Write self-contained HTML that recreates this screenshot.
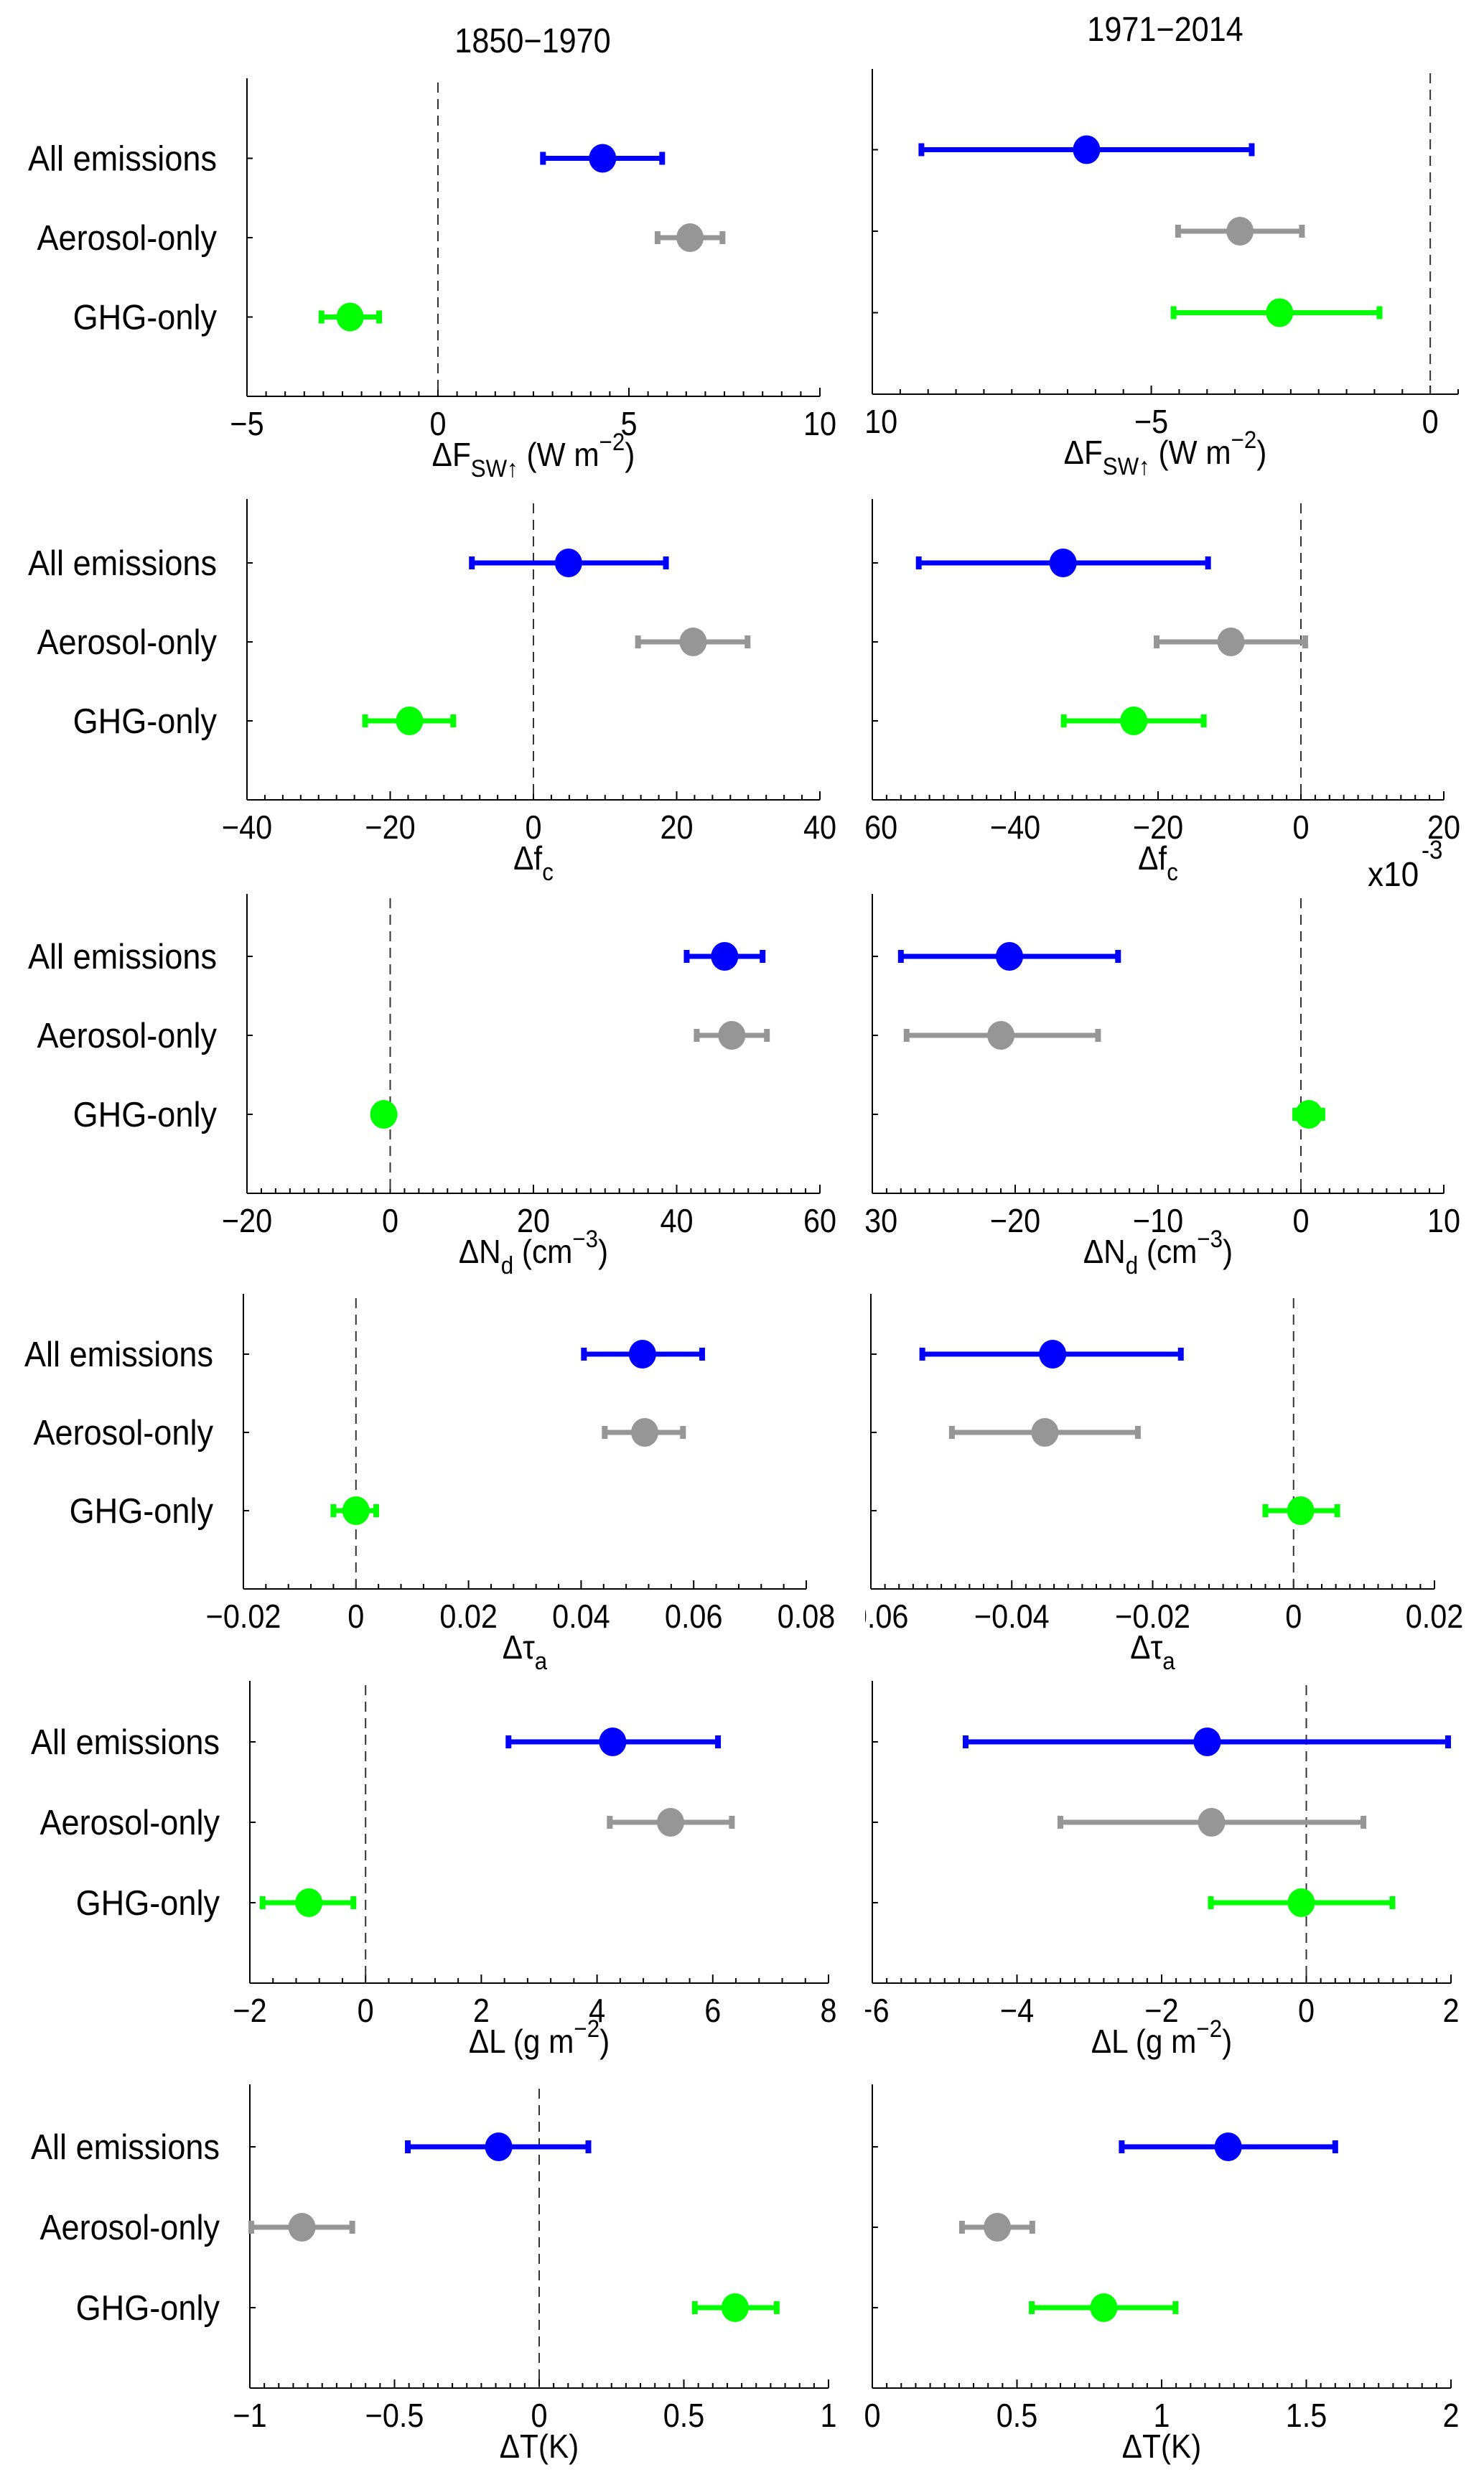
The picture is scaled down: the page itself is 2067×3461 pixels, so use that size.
<!DOCTYPE html>
<html><head><meta charset="utf-8"><title>Emission response panels</title>
<style>
html,body{margin:0;padding:0;background:#fff;}
svg{display:block;font-family:"Liberation Sans",Arial,sans-serif;}
</style></head>
<body>
<svg id="fig" width="2067" height="3461" viewBox="0 0 2067 3461" xmlns="http://www.w3.org/2000/svg">
<defs><clipPath id="rclip"><rect x="1205" y="0" width="862" height="3461"/></clipPath></defs>
<rect x="0" y="0" width="2067" height="3461" fill="#fff"/>
<text transform="translate(742,73) scale(0.9,1)" font-size="48" text-anchor="middle">1850−1970</text>
<text transform="translate(1623,57) scale(0.9,1)" font-size="48" text-anchor="middle">1971−2014</text>
<text transform="translate(1905,1234) scale(0.92,1)" font-size="48">x10</text>
<text transform="translate(1980,1196) scale(0.92,1)" font-size="36">-3</text>
</svg>
<script>
const categories = ["All emissions","Aerosol-only","GHG-only"];
const colors = ["#0000ff","#969696","#00ff00"];

// Row 1: ΔF_SW
const fswL_mean = [4.31, 6.6, -2.3];
const fswL_lo   = [2.75, 5.75, -3.05];
const fswL_hi   = [5.87, 7.45, -1.54];
const fswL_ticks = [-5, 0, 5, 10];
const fswL_tickLabels = ["−5","0","5","10"];
const fswR_mean = [-6.16, -3.41, -2.7];
const fswR_lo   = [-9.12, -4.52, -4.6];
const fswR_hi   = [-3.2, -2.3, -0.91];
const fswR_ticks = [-10, -5, 0];
const fswR_tickLabels = ["−10","−5","0"];
// Row 2: Δf_c
const fcL_mean = [4.9, 22.3, -17.3];
const fcL_lo   = [-8.6, 14.6, -23.5];
const fcL_hi   = [18.5, 29.9, -11.2];
const fcL_ticks = [-40, -20, 0, 20, 40];
const fcL_tickLabels = ["−40","−20","0","20","40"];
const fcR_mean = [-33.3, -9.8, -23.4];
const fcR_lo   = [-53.5, -20.2, -33.2];
const fcR_hi   = [-13.0, 0.6, -13.6];
const fcR_ticks = [-60, -40, -20, 0, 20];
const fcR_tickLabels = ["−60","−40","−20","0","20"];
// Row 3: ΔN_d
const ndL_mean = [46.7, 47.7, -0.9];
const ndL_lo   = [41.4, 42.8, -1.2];
const ndL_hi   = [52.0, 52.6, -0.6];
const ndL_ticks = [-20, 0, 20, 40, 60];
const ndL_tickLabels = ["−20","0","20","40","60"];
const ndR_mean = [-20.4, -21.0, 0.55];
const ndR_lo   = [-28.0, -27.6, -0.4];
const ndR_hi   = [-12.8, -14.2, 1.5];
const ndR_ticks = [-30, -20, -10, 0, 10];
const ndR_tickLabels = ["−30","−20","−10","0","10"];
// Row 4: Δτ_a
const tauL_mean = [0.0509, 0.0513, 0.0];
const tauL_lo   = [0.0405, 0.0442, -0.004];
const tauL_hi   = [0.0615, 0.0581, 0.0036];
const tauL_ticks = [-0.02, 0, 0.02, 0.04, 0.06, 0.08];
const tauL_tickLabels = ["−0.02","0","0.02","0.04","0.06","0.08"];
const tauR_mean = [-0.0342, -0.0353, 0.001];
const tauR_lo   = [-0.0527, -0.0485, -0.004];
const tauR_hi   = [-0.016, -0.0221, 0.0062];
const tauR_ticks = [-0.06, -0.04, -0.02, 0, 0.02];
const tauR_tickLabels = ["−0.06","−0.04","−0.02","0","0.02"];
// Row 5: ΔL
const lwpL_mean = [4.27, 5.27, -0.98];
const lwpL_lo   = [2.47, 4.22, -1.78];
const lwpL_hi   = [6.09, 6.33, -0.21];
const lwpL_ticks = [-2, 0, 2, 4, 6, 8];
const lwpL_tickLabels = ["−2","0","2","4","6","8"];
const lwpR_mean = [-1.37, -1.31, -0.07];
const lwpR_lo   = [-4.71, -3.4, -1.32];
const lwpR_hi   = [1.96, 0.79, 1.19];
const lwpR_ticks = [-6, -4, -2, 0, 2];
const lwpR_tickLabels = ["−6","−4","−2","0","2"];
// Row 6: ΔT
const tL_mean = [-0.14, -0.82, 0.677];
const tL_lo   = [-0.454, -0.995, 0.538];
const tL_hi   = [0.17, -0.646, 0.821];
const tL_ticks = [-1, -0.5, 0, 0.5, 1];
const tL_tickLabels = ["−1","−0.5","0","0.5","1"];
const tR_mean = [1.23, 0.432, 0.80];
const tR_lo   = [0.862, 0.31, 0.551];
const tR_hi   = [1.60, 0.553, 1.048];
const tR_ticks = [0, 0.5, 1, 1.5, 2];
const tR_tickLabels = ["0","0.5","1","1.5","2"];

const NS = "http://www.w3.org/2000/svg";
const svg = document.getElementById("fig");
function mk(tag, attrs, parent){
  const e = document.createElementNS(NS, tag);
  for (const k in attrs) e.setAttribute(k, attrs[k]);
  (parent||svg).appendChild(e);
  return e;
}

const panels = [
 {id:"fsw-left", side:"L", x0:344,x1:1142,top:109,bottom:552,step:110.5,xmin:-5,xmax:10,minor:0.5,mean:fswL_mean,lo:fswL_lo,hi:fswL_hi,ticks:fswL_ticks,tl:fswL_tickLabels,lab:"fsw"},
 {id:"fsw-right",side:"R", x0:1215,x1:2031,top:96,bottom:549,step:113.5,xmin:-10,xmax:0.5,minor:0.5,mean:fswR_mean,lo:fswR_lo,hi:fswR_hi,ticks:fswR_ticks,tl:fswR_tickLabels,lab:"fsw"},
 {id:"fc-left", side:"L", x0:344,x1:1142,top:695,bottom:1114,step:110,xmin:-40,xmax:40,minor:2.5,mean:fcL_mean,lo:fcL_lo,hi:fcL_hi,ticks:fcL_ticks,tl:fcL_tickLabels,lab:"fc"},
 {id:"fc-right",side:"R", x0:1215,x1:2011,top:695,bottom:1114,step:110,xmin:-60,xmax:20,minor:2,mean:fcR_mean,lo:fcR_lo,hi:fcR_hi,ticks:fcR_ticks,tl:fcR_tickLabels,lab:"fc"},
 {id:"nd-left", side:"L", x0:344,x1:1142,top:1245,bottom:1662,step:110,xmin:-20,xmax:60,minor:2,mean:ndL_mean,lo:ndL_lo,hi:ndL_hi,ticks:ndL_ticks,tl:ndL_tickLabels,lab:"nd"},
 {id:"nd-right",side:"R", x0:1215,x1:2011,top:1245,bottom:1662,step:110,xmin:-30,xmax:10,minor:1,mean:ndR_mean,lo:ndR_lo,hi:ndR_hi,ticks:ndR_ticks,tl:ndR_tickLabels,lab:"nd"},
 {id:"tau-left", side:"L", x0:339,x1:1123,top:1802,bottom:2213,step:109,xmin:-0.02,xmax:0.08,minor:0.004,mean:tauL_mean,lo:tauL_lo,hi:tauL_hi,ticks:tauL_ticks,tl:tauL_tickLabels,lab:"tau"},
 {id:"tau-right",side:"R", x0:1213,x1:1998,top:1802,bottom:2213,step:109,xmin:-0.06,xmax:0.02,minor:0.002,mean:tauR_mean,lo:tauR_lo,hi:tauR_hi,ticks:tauR_ticks,tl:tauR_tickLabels,lab:"tau"},
 {id:"lwp-left", side:"L", x0:348,x1:1154,top:2341,bottom:2762,step:112,xmin:-2,xmax:8,minor:0.4,mean:lwpL_mean,lo:lwpL_lo,hi:lwpL_hi,ticks:lwpL_ticks,tl:lwpL_tickLabels,lab:"lwp"},
 {id:"lwp-right",side:"R", x0:1215,x1:2021,top:2341,bottom:2762,step:112,xmin:-6,xmax:2,minor:0.2,mean:lwpR_mean,lo:lwpR_lo,hi:lwpR_hi,ticks:lwpR_ticks,tl:lwpR_tickLabels,lab:"lwp"},
 {id:"t-left", side:"L", x0:348,x1:1154,top:2903,bottom:3326,step:112,xmin:-1,xmax:1,minor:0.05,mean:tL_mean,lo:tL_lo,hi:tL_hi,ticks:tL_ticks,tl:tL_tickLabels,lab:"t"},
 {id:"t-right",side:"R", x0:1215,x1:2021,top:2903,bottom:3326,step:112,xmin:0,xmax:2,minor:0.05,mean:tR_mean,lo:tR_lo,hi:tR_hi,ticks:tR_ticks,tl:tR_tickLabels,lab:"t"}
];

function axisLabel(g, kind, cx, y){
  const t = mk("text",{transform:"translate("+cx+","+y+") scale(0.92,1)","font-size":46,"text-anchor":"middle"},g);
  
  
  const sp = (txt, attrs) => { const s = mk("tspan", attrs||{}, t); s.textContent = txt; return s; };
  if (kind==="fsw"){ sp("ΔF"); sp("SW↑",{dy:15,"font-size":34}); sp(" (W m",{dy:-15}); sp("−2",{dy:-22,"font-size":34}); sp(")",{dy:22}); }
  else if (kind==="fc"){ sp("Δf"); sp("c",{dy:15,"font-size":34}); }
  else if (kind==="nd"){ sp("ΔN"); sp("d",{dy:15,"font-size":34}); sp(" (cm",{dy:-15}); sp("−3",{dy:-22,"font-size":34}); sp(")",{dy:22}); }
  else if (kind==="tau"){ sp("Δτ"); sp("a",{dy:15,"font-size":34}); }
  else if (kind==="lwp"){ sp("ΔL (g m"); sp("−2",{dy:-22,"font-size":34}); sp(")",{dy:22}); }
  else if (kind==="t"){ sp("ΔT(K)"); }
}

panels.forEach(p => {
  const g = mk("g",{});
  
  
  const xs = v => p.x0 + (v - p.xmin) / (p.xmax - p.xmin) * (p.x1 - p.x0);
  const ys = k => p.bottom - (4 - k) * p.step;

  const yax = mk("line",{x1:p.x0,y1:p.top,x2:p.x0,y2:p.bottom,stroke:"#000","stroke-width":2},g);
  
  
  const xax = mk("line",{x1:p.x0,y1:p.bottom,x2:p.x1,y2:p.bottom,stroke:"#000","stroke-width":2},g);
  
  

  const n = Math.round((p.xmax - p.xmin) / p.minor);
  for (let i=0;i<=n;i++){
    const v = p.xmin + i*p.minor;
    const X = xs(v);
    if (X > p.x1 + 0.5) break;
    const major = p.ticks.some(t => Math.abs(t - v) < p.minor*0.01);
    mk("line",{x1:X,y1:p.bottom,x2:X,y2:p.bottom-(major?12:7),stroke:"#000","stroke-width":2},g);
  }
  const lg = mk("g", p.side==="R" ? {"clip-path":"url(#rclip)"} : {}, g);
  p.ticks.forEach((t,i) => {
    const tx = mk("text",{transform:"translate("+xs(t)+","+(p.bottom+54)+") scale(0.9,1)","font-size":46,"text-anchor":"middle"},lg);
    
    
    tx.textContent = p.tl[i];
  });
  categories.forEach((c,k) => {
    const Y = ys(k+1);
    mk("line",{x1:p.x0,y1:Y,x2:p.x0+8,y2:Y,stroke:"#000","stroke-width":2},g);
    if (p.side==="L"){
      const tx = mk("text",{transform:"translate("+(p.x0-42)+","+(Y+17)+") scale(0.92,1)","font-size":49,"text-anchor":"end"},g);
      
      
      tx.textContent = c;
    }
  });
  if (xs(0) > p.x0 + 3) {
    const zl = mk("line",{x1:xs(0),y1:p.top+6,x2:xs(0),y2:p.bottom,stroke:"#333","stroke-width":2,"stroke-dasharray":"14 9"},g);
    
    
  }

  categories.forEach((c,k) => {
    const Y = ys(k+1);
    const col = colors[k];
    const bar = mk("line",{x1:xs(p.lo[k]),y1:Y,x2:xs(p.hi[k]),y2:Y,stroke:col,"stroke-width":7},g);
    
    
    [p.lo[k], p.hi[k]].forEach(v => {
      const cap = mk("rect",{x:xs(v)-4,y:Y-9,width:8,height:18,fill:col},g);
      
      
    });
    const dot = mk("ellipse",{cx:xs(p.mean[k]),cy:Y,rx:19,ry:20,fill:col},g);
    
    
  });

  axisLabel(g, p.lab, (p.x0+p.x1)/2, p.bottom+97);
});
</script>
</body></html>
